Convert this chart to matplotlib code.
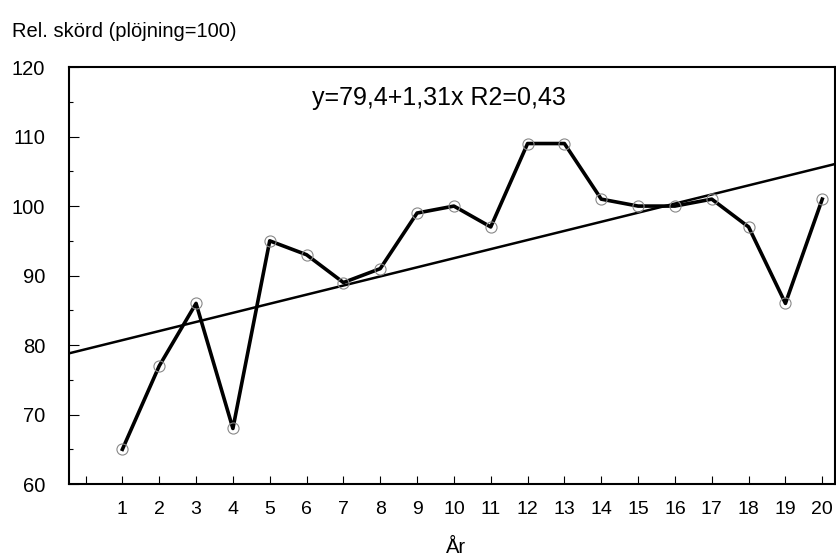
import numpy as np
import matplotlib.pyplot as plt

plt.rcParams['font.family'] = ['Liberation Sans', 'DejaVu Sans']

ar = np.arange(1, 21)
skord = [65, 77, 86, 68, 95, 93, 89, 91, 99, 100, 97, 109, 109, 101, 100, 100, 101, 97, 86, 101]
a, b = 79.4, 1.31
ekvation = "y=79,4+1,31x R2=0,43"

fig = plt.figure(figsize=(8.36, 5.59), dpi=100)
ax = fig.add_axes([0.0825, 0.134, 0.9165, 0.746])

xlim = (-0.45, 20.35)
xx = np.array(xlim)
ax.plot(xx, a + b * xx, color='black', lw=1.8, zorder=2)
ax.plot(ar, skord, color='black', lw=2.6, zorder=3)
ax.plot(ar, skord, 'o', ms=8, mfc='none', mec='#888888', mew=0.8, zorder=4)

ax.text(9.6, 115.6, ekvation, fontsize=18, ha='center', va='center')

ax.set_xlim(*xlim)
ax.set_ylim(60, 120)
ax.set_xticks(np.arange(0, 21))
ax.set_xticklabels([''] + [str(i) for i in ar])
ax.set_yticks(np.arange(60, 121, 10))
ax.set_yticks(np.arange(65, 120, 10), minor=True)
ax.tick_params(axis='x', direction='in', length=6, width=0.8, pad=12, labelsize=14)
ax.tick_params(axis='y', which='major', direction='in', length=7, width=0.8, pad=17, labelsize=14.5)
ax.tick_params(axis='y', which='minor', direction='in', length=3, width=0.8)
for s in ax.spines.values():
    s.set_linewidth(1.5)

fig.text(0.014, 0.943, "Rel. skörd (plöjning=100)", fontsize=14.5, ha='left', va='center')
fig.text(0.545, 0.02, "År", fontsize=14.5, ha='center', va='center')

fig.savefig('out.png', dpi=100)
